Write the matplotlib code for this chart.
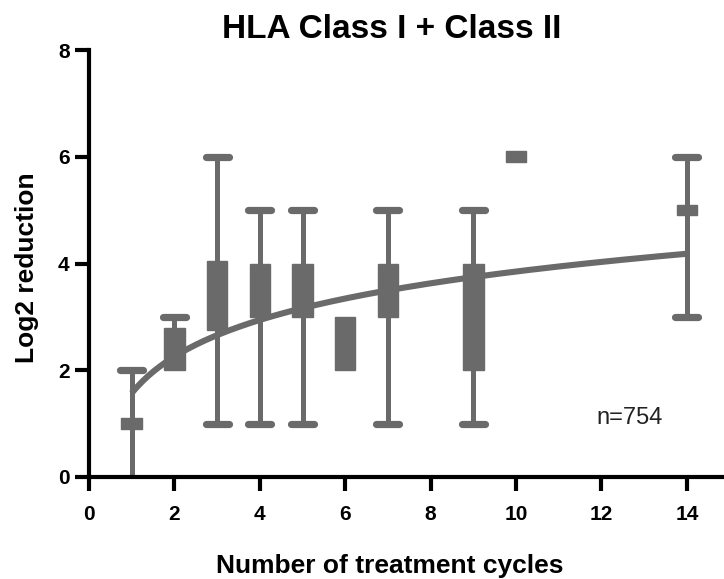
import numpy as np
import matplotlib
matplotlib.use("Agg")
import matplotlib.pyplot as plt
from matplotlib.patches import Rectangle

plt.rcParams['font.family'] = ['Liberation Sans', 'DejaVu Sans']

# Data
cycles   = [1,   2,   3,    4,   5,   7,   9,   14]
whis_lo  = [0,   2,   1,    1,   1,   1,   1,   3]
whis_hi  = [2,   3,   6,    5,   5,   5,   5,   6]
box_lo   = [0.9, 2.0, 2.75, 3.0, 3.0, 3.0, 2.0, 4.9]
box_hi   = [1.1, 2.8, 4.05, 4.0, 4.0, 4.0, 4.0, 5.1]
# groups without whiskers
cycles_nw = [6,   10]
box_lo_nw = [2.0, 5.9]
box_hi_nw = [3.0, 6.1]
# logarithmic fit y = a + b*ln(x)
fit_a, fit_b = 1.57, 0.99

gray = '#6a6a6a'
fig = plt.figure(figsize=(7.24, 5.79), dpi=100)
ax = fig.add_axes([89/724, 1 - 477/579, 1 - 89/724, (477 - 50)/579])

box_w = 0.48
cap_w = 0.54
lw = 3.6

for x, wl, wh, bl, bh in zip(cycles, whis_lo, whis_hi, box_lo, box_hi):
    ax.plot([x, x], [wl, wh], color=gray, lw=lw, solid_capstyle='butt', zorder=2)
    if wh > bh:
        ax.plot([x - cap_w/2, x + cap_w/2], [wh, wh], color=gray, lw=5.2,
                solid_capstyle='round', zorder=2)
    if bl > wl > 0:
        ax.plot([x - cap_w/2, x + cap_w/2], [wl, wl], color=gray, lw=5.2,
                solid_capstyle='round', zorder=2)
    ax.add_patch(Rectangle((x - box_w/2, bl), box_w, bh - bl, facecolor=gray,
                           edgecolor=gray, lw=1, zorder=3))

for x, bl, bh in zip(cycles_nw, box_lo_nw, box_hi_nw):
    ax.add_patch(Rectangle((x - box_w/2, bl), box_w, bh - bl, facecolor=gray,
                           edgecolor=gray, lw=1, zorder=3))

xf = np.linspace(1, 14, 200)
ax.plot(xf, fit_a + fit_b*np.log(xf), color=gray, lw=4.4, zorder=4, solid_capstyle='butt')

ax.set_xlim(0, 14.87)
ax.set_ylim(0, 8)
ax.set_xticks(range(0, 15, 2))
ax.set_yticks(range(0, 9, 2))
for s in ['top', 'right']:
    ax.spines[s].set_visible(False)
for s in ['left', 'bottom']:
    ax.spines[s].set_linewidth(3.0)
    ax.spines[s].set_zorder(5)
ax.spines['left'].set_bounds(0, 8)
ax.tick_params(axis='both', direction='out', length=10, width=3.0, labelsize=15)
ax.tick_params(axis='y', pad=4)
ax.tick_params(axis='x', pad=10)
for lab in ax.get_xticklabels() + ax.get_yticklabels():
    lab.set_fontweight('bold')

fig.text(392/724, 1 - 38/579, 'HLA Class I + Class II', fontsize=24,
         fontweight='bold', ha='center', va='baseline')
fig.text(390/724, 1 - 566/579, 'Number of treatment cycles', fontsize=19,
         fontweight='bold', ha='center', va='center')
fig.text(27/724, 1 - 268/579, 'Log2 reduction', fontsize=19, fontweight='bold',
         ha='center', va='center', rotation=90)
ax.text(12.66, 1.1, 'n=754', fontsize=17, ha='center', va='center', color='#222222')
for a in ax.patches + ax.lines:
    a.set_clip_on(False)

fig.savefig('out.png', dpi=100)
